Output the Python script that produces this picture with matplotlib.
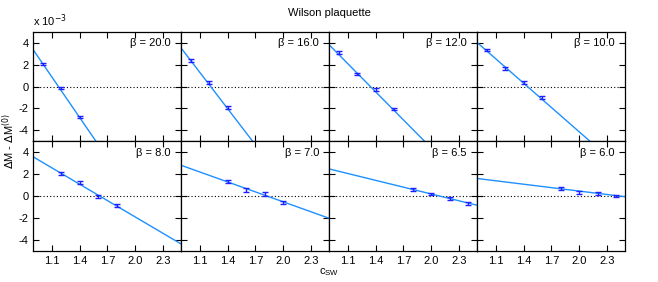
import numpy as np
import matplotlib
matplotlib.use('Agg')
import matplotlib.pyplot as plt

plt.rcParams['font.family'] = ['Liberation Sans', 'DejaVu Sans']
plt.rcParams['axes.unicode_minus'] = False

# one entry per panel, values in units of 1e-3
betas = ['20.0', '16.0', '12.0', '10.0', '8.0', '7.0', '6.5', '6.0']

csw_pts = [
    [1.0, 1.2, 1.4],
    [1.0, 1.2, 1.4],
    [1.0, 1.2, 1.4, 1.6],
    [1.0, 1.2, 1.4, 1.6],
    [1.2, 1.4, 1.6, 1.8],
    [1.4, 1.6, 1.8, 2.0],
    [1.8, 2.0, 2.2, 2.4],
    [1.8, 2.0, 2.2, 2.4],
]
dm_pts = [
    [2.06, -0.15, -2.78],
    [2.36, 0.34, -1.90],
    [3.09, 1.15, -0.30, -2.05],
    [3.34, 1.67, 0.34, -1.03],
    [2.07, 1.22, -0.03, -0.83],
    [1.34, 0.55, 0.21, -0.59],
    [0.61, 0.21, -0.22, -0.68],
    [0.67, 0.37, 0.24, 0.00],
]
dm_err = [
    [0.12, 0.12, 0.12],
    [0.12, 0.12, 0.12],
    [0.12, 0.12, 0.12, 0.12],
    [0.12, 0.12, 0.12, 0.12],
    [0.14, 0.14, 0.14, 0.14],
    [0.14, 0.18, 0.18, 0.14],
    [0.14, 0.12, 0.12, 0.12],
    [0.14, 0.14, 0.12, 0.10],
]

# linear fits: value at csw = 0.9 and slope
fit_at_09 = [3.34, 3.49, 3.79, 4.00, 3.58, 2.81, 2.48, 1.61]
fit_slope = [-12.3, -11.0, -8.53, -7.38, -4.97, -3.02, -2.07, -1.04]

xticks = [1.1, 1.4, 1.7, 2.0, 2.3]
yticks = [-4, -2, 0, 2, 4]

line_col = '#1e90ff'
pt_col = '#2020ff'

fig, axes = plt.subplots(2, 4, figsize=(6.58, 2.82), dpi=100, sharex=True, sharey=True)
fig.subplots_adjust(left=0.0506, right=0.9503, top=0.8876, bottom=0.11, wspace=0, hspace=0)

xfit = np.array([0.9, 2.5])
for i, ax in enumerate(axes.flat):
    ax.plot(xfit, fit_at_09[i] + fit_slope[i] * (xfit - 0.9), color=line_col, lw=1.0, zorder=2)
    ax.errorbar(csw_pts[i], dm_pts[i], yerr=dm_err[i], fmt='none', ecolor=pt_col,
                elinewidth=1.0, capsize=2, capthick=1.0, zorder=3)
    ax.axhline(0, color='black', lw=0.8, ls=(0, (1, 2)), zorder=1)
    ax.text(0.93, 0.895, '\u03b2 = ' + betas[i], transform=ax.transAxes,
            ha='right', va='center', fontsize=8)
    ax.set_xlim(0.9, 2.5)
    ax.set_ylim(-5, 5)
    ax.set_xticks(xticks)
    ax.set_yticks(yticks)
    ax.tick_params(direction='in', top=True, right=True, length=4, width=0.8, labelsize=8)
    for s in ax.spines.values():
        s.set_linewidth(0.9)

for ax in axes[1]:
    ax.set_xticklabels(['1.1', '1.4', '1.7', '2.0', '2.3'])

fig.text(0.5, 0.955, 'Wilson plaquette', ha='center', va='center', fontsize=8)
fig.text(0.0506, 0.925, r'x 10$^{-3}$', ha='left', va='center', fontsize=8)
fig.text(0.013, 0.5, r'$\Delta$M - $\Delta$M$^{(0)}$', rotation=90, ha='center', va='center', fontsize=8)
fig.text(0.5, 0.035, r'c$_{\mathregular{SW}}$', ha='center', va='center', fontsize=8)

fig.savefig('out.png', dpi=100)
